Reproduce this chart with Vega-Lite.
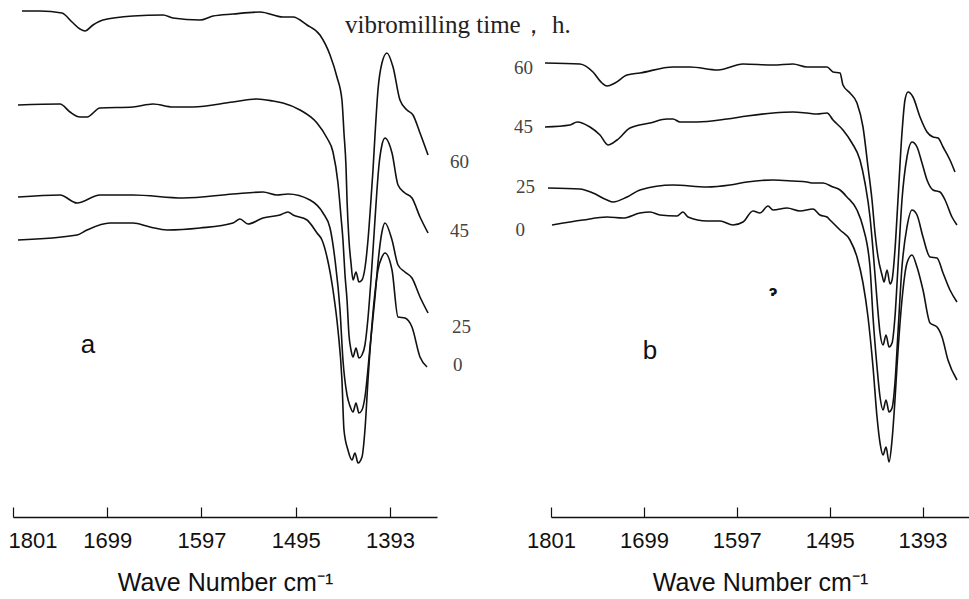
{
"$schema":"https://vega.github.io/schema/vega-lite/v6.json",
"padding":{"left":8,"top":0,"right":0,"bottom":0},
"autosize":{"type":"pad"},
"bounds":"flush",
"spacing":114,
"background":"white",
"config":{"view":{"stroke":null},
 "axis":{"grid":false,"format":"d","domainColor":"#111","domainWidth":1.5,"tickColor":"#111","tickWidth":1.2,"tickSize":-10,"labelFont":"Liberation Sans","labelFontSize":22,"labelColor":"#111","labelPadding":23,"titleFont":"Liberation Sans","titleFontSize":25,"titleFontWeight":"normal","titleColor":"#111","titlePadding":19}},
"datasets":{
"lineA":[
{"t":"60","wn":1791.3,"a":506},{"t":"60","wn":1771.8,"a":506},{"t":"60","wn":1748.0,"a":504},{"t":"60","wn":1737.1,"a":495},{"t":"60","wn":1728.5,"a":488},{"t":"60","wn":1723.1,"a":486},{"t":"60","wn":1714.4,"a":492},{"t":"60","wn":1703.6,"a":497},{"t":"60","wn":1671.1,"a":501},{"t":"60","wn":1638.6,"a":502},{"t":"60","wn":1627.8,"a":499},{"t":"60","wn":1598.6,"a":497},{"t":"60","wn":1584.5,"a":501},{"t":"60","wn":1562.9,"a":503},{"t":"60","wn":1533.6,"a":505},{"t":"60","wn":1508.7,"a":500},{"t":"60","wn":1497.9,"a":500},{"t":"60","wn":1482.7,"a":492},{"t":"60","wn":1468.7,"a":482},{"t":"60","wn":1457.8,"a":462},{"t":"60","wn":1450.3,"a":440},{"t":"60","wn":1444.9,"a":417},{"t":"60","wn":1442.7,"a":384},{"t":"60","wn":1440.5,"a":350},{"t":"60","wn":1439.4,"a":317},{"t":"60","wn":1437.3,"a":277},{"t":"60","wn":1435.1,"a":254},{"t":"60","wn":1432.9,"a":237},{"t":"60","wn":1429.7,"a":245},{"t":"60","wn":1426.5,"a":235},{"t":"60","wn":1423.2,"a":237},{"t":"60","wn":1420.0,"a":249},{"t":"60","wn":1416.7,"a":277},{"t":"60","wn":1413.5,"a":317},{"t":"60","wn":1411.3,"a":347},{"t":"60","wn":1409.1,"a":382},{"t":"60","wn":1405.9,"a":427},{"t":"60","wn":1401.6,"a":454},{"t":"60","wn":1396.2,"a":464},{"t":"60","wn":1389.6,"a":450},{"t":"60","wn":1382.1,"a":417},{"t":"60","wn":1374.5,"a":407},{"t":"60","wn":1368.0,"a":402},{"t":"60","wn":1360.4,"a":384},{"t":"60","wn":1351.7,"a":362},
{"t":"45","wn":1795.6,"a":412},{"t":"45","wn":1750.1,"a":413},{"t":"45","wn":1739.3,"a":405},{"t":"45","wn":1728.5,"a":400},{"t":"45","wn":1720.9,"a":400},{"t":"45","wn":1706.8,"a":409},{"t":"45","wn":1671.1,"a":410},{"t":"45","wn":1649.5,"a":413},{"t":"45","wn":1627.8,"a":410},{"t":"45","wn":1606.2,"a":410},{"t":"45","wn":1562.9,"a":415},{"t":"45","wn":1536.9,"a":418},{"t":"45","wn":1519.6,"a":416},{"t":"45","wn":1508.7,"a":414},{"t":"45","wn":1490.3,"a":407},{"t":"45","wn":1471.9,"a":394},{"t":"45","wn":1461.1,"a":379},{"t":"45","wn":1454.6,"a":365},{"t":"45","wn":1449.2,"a":334},{"t":"45","wn":1445.9,"a":300},{"t":"45","wn":1443.8,"a":277},{"t":"45","wn":1441.6,"a":242},{"t":"45","wn":1439.4,"a":217},{"t":"45","wn":1437.3,"a":182},{"t":"45","wn":1435.1,"a":167},{"t":"45","wn":1432.9,"a":160},{"t":"45","wn":1429.7,"a":169},{"t":"45","wn":1426.5,"a":159},{"t":"45","wn":1423.2,"a":162},{"t":"45","wn":1420.0,"a":172},{"t":"45","wn":1416.7,"a":199},{"t":"45","wn":1413.5,"a":237},{"t":"45","wn":1410.2,"a":282},{"t":"45","wn":1407.0,"a":327},{"t":"45","wn":1404.8,"a":352},{"t":"45","wn":1401.6,"a":372},{"t":"45","wn":1398.3,"a":379},{"t":"45","wn":1390.7,"a":364},{"t":"45","wn":1384.2,"a":332},{"t":"45","wn":1376.7,"a":324},{"t":"45","wn":1369.1,"a":319},{"t":"45","wn":1360.4,"a":300},{"t":"45","wn":1351.7,"a":284},
{"t":"25","wn":1795.6,"a":320},{"t":"25","wn":1750.1,"a":322},{"t":"25","wn":1731.7,"a":314},{"t":"25","wn":1706.8,"a":322},{"t":"25","wn":1671.1,"a":322},{"t":"25","wn":1617.0,"a":319},{"t":"25","wn":1562.9,"a":323},{"t":"25","wn":1530.4,"a":325},{"t":"25","wn":1515.2,"a":322},{"t":"25","wn":1503.3,"a":323},{"t":"25","wn":1479.5,"a":317},{"t":"25","wn":1465.4,"a":304},{"t":"25","wn":1457.8,"a":289},{"t":"25","wn":1452.4,"a":257},{"t":"25","wn":1447.0,"a":207},{"t":"25","wn":1443.8,"a":157},{"t":"25","wn":1439.4,"a":122},{"t":"25","wn":1436.2,"a":111},{"t":"25","wn":1432.9,"a":105},{"t":"25","wn":1429.7,"a":114},{"t":"25","wn":1426.5,"a":104},{"t":"25","wn":1423.2,"a":107},{"t":"25","wn":1420.0,"a":120},{"t":"25","wn":1414.5,"a":170},{"t":"25","wn":1409.1,"a":220},{"t":"25","wn":1405.9,"a":254},{"t":"25","wn":1401.6,"a":285},{"t":"25","wn":1398.3,"a":294},{"t":"25","wn":1390.7,"a":277},{"t":"25","wn":1384.2,"a":252},{"t":"25","wn":1376.7,"a":245},{"t":"25","wn":1369.1,"a":239},{"t":"25","wn":1360.4,"a":220},{"t":"25","wn":1351.7,"a":204},
{"t":"0","wn":1795.6,"a":277},{"t":"0","wn":1731.7,"a":282},{"t":"0","wn":1720.9,"a":287},{"t":"0","wn":1696.0,"a":294},{"t":"0","wn":1671.1,"a":294},{"t":"0","wn":1652.7,"a":290},{"t":"0","wn":1634.3,"a":287},{"t":"0","wn":1598.6,"a":289},{"t":"0","wn":1562.9,"a":294},{"t":"0","wn":1555.3,"a":298},{"t":"0","wn":1546.6,"a":293},{"t":"0","wn":1530.4,"a":299},{"t":"0","wn":1512.0,"a":302},{"t":"0","wn":1503.3,"a":305},{"t":"0","wn":1497.9,"a":302},{"t":"0","wn":1482.7,"a":297},{"t":"0","wn":1471.9,"a":284},{"t":"0","wn":1466.5,"a":277},{"t":"0","wn":1461.1,"a":260},{"t":"0","wn":1454.6,"a":227},{"t":"0","wn":1449.2,"a":187},{"t":"0","wn":1444.9,"a":137},{"t":"0","wn":1442.7,"a":87},{"t":"0","wn":1438.4,"a":67},{"t":"0","wn":1434.0,"a":57},{"t":"0","wn":1430.8,"a":64},{"t":"0","wn":1427.5,"a":54},{"t":"0","wn":1423.2,"a":60},{"t":"0","wn":1420.0,"a":87},{"t":"0","wn":1416.7,"a":137},{"t":"0","wn":1411.3,"a":204},{"t":"0","wn":1405.9,"a":247},{"t":"0","wn":1401.6,"a":260},{"t":"0","wn":1398.3,"a":264},{"t":"0","wn":1390.7,"a":247},{"t":"0","wn":1384.2,"a":200},{"t":"0","wn":1376.7,"a":199},{"t":"0","wn":1369.1,"a":190},{"t":"0","wn":1360.4,"a":160},{"t":"0","wn":1352.8,"a":150}
],
"lineB":[
{"t":"60","wn":1807.6,"a":454},{"t":"60","wn":1769.2,"a":453},{"t":"60","wn":1754.9,"a":445},{"t":"60","wn":1745.0,"a":434},{"t":"60","wn":1739.5,"a":431},{"t":"60","wn":1730.7,"a":434},{"t":"60","wn":1717.5,"a":442},{"t":"60","wn":1703.3,"a":444},{"t":"60","wn":1667.0,"a":450},{"t":"60","wn":1648.4,"a":450},{"t":"60","wn":1617.6,"a":447},{"t":"60","wn":1590.2,"a":453},{"t":"60","wn":1557.2,"a":452},{"t":"60","wn":1535.3,"a":453},{"t":"60","wn":1519.9,"a":450},{"t":"60","wn":1497.9,"a":450},{"t":"60","wn":1491.3,"a":445},{"t":"60","wn":1483.6,"a":444},{"t":"60","wn":1480.4,"a":432},{"t":"60","wn":1472.7,"a":424},{"t":"60","wn":1465.0,"a":414},{"t":"60","wn":1458.4,"a":390},{"t":"60","wn":1452.9,"a":350},{"t":"60","wn":1448.5,"a":317},{"t":"60","wn":1445.2,"a":284},{"t":"60","wn":1441.9,"a":260},{"t":"60","wn":1437.5,"a":242},{"t":"60","wn":1435.3,"a":235},{"t":"60","wn":1432.0,"a":247},{"t":"60","wn":1428.7,"a":233},{"t":"60","wn":1426.5,"a":237},{"t":"60","wn":1423.3,"a":267},{"t":"60","wn":1420.0,"a":317},{"t":"60","wn":1415.6,"a":384},{"t":"60","wn":1412.3,"a":417},{"t":"60","wn":1409.0,"a":425},{"t":"60","wn":1403.5,"a":420},{"t":"60","wn":1395.8,"a":400},{"t":"60","wn":1388.1,"a":385},{"t":"60","wn":1381.5,"a":380},{"t":"60","wn":1376.0,"a":379},{"t":"60","wn":1370.5,"a":370},{"t":"60","wn":1362.9,"a":357},{"t":"60","wn":1357.4,"a":345},
{"t":"45","wn":1807.6,"a":390},{"t":"45","wn":1780.1,"a":392},{"t":"45","wn":1772.4,"a":395},{"t":"45","wn":1758.2,"a":390},{"t":"45","wn":1747.2,"a":382},{"t":"45","wn":1738.4,"a":372},{"t":"45","wn":1728.5,"a":377},{"t":"45","wn":1714.3,"a":389},{"t":"45","wn":1692.3,"a":394},{"t":"45","wn":1673.6,"a":398},{"t":"45","wn":1667.0,"a":398},{"t":"45","wn":1659.3,"a":395},{"t":"45","wn":1640.7,"a":395},{"t":"45","wn":1607.7,"a":398},{"t":"45","wn":1585.8,"a":401},{"t":"45","wn":1557.2,"a":404},{"t":"45","wn":1535.3,"a":405},{"t":"45","wn":1519.9,"a":404},{"t":"45","wn":1508.9,"a":403},{"t":"45","wn":1497.9,"a":404},{"t":"45","wn":1491.3,"a":397},{"t":"45","wn":1480.4,"a":387},{"t":"45","wn":1470.5,"a":374},{"t":"45","wn":1461.7,"a":357},{"t":"45","wn":1456.2,"a":334},{"t":"45","wn":1450.7,"a":300},{"t":"45","wn":1447.4,"a":267},{"t":"45","wn":1443.0,"a":217},{"t":"45","wn":1439.7,"a":184},{"t":"45","wn":1436.4,"a":172},{"t":"45","wn":1433.1,"a":182},{"t":"45","wn":1429.8,"a":170},{"t":"45","wn":1426.5,"a":174},{"t":"45","wn":1423.3,"a":200},{"t":"45","wn":1420.0,"a":250},{"t":"45","wn":1415.6,"a":317},{"t":"45","wn":1410.1,"a":360},{"t":"45","wn":1404.6,"a":375},{"t":"45","wn":1399.1,"a":370},{"t":"45","wn":1393.6,"a":354},{"t":"45","wn":1388.1,"a":337},{"t":"45","wn":1381.5,"a":327},{"t":"45","wn":1373.8,"a":325},{"t":"45","wn":1368.3,"a":317},{"t":"45","wn":1360.7,"a":300},{"t":"45","wn":1355.2,"a":292},
{"t":"25","wn":1804.3,"a":329},{"t":"25","wn":1769.2,"a":328},{"t":"25","wn":1754.9,"a":324},{"t":"25","wn":1739.5,"a":317},{"t":"25","wn":1732.9,"a":315},{"t":"25","wn":1717.5,"a":320},{"t":"25","wn":1703.3,"a":327},{"t":"25","wn":1667.0,"a":332},{"t":"25","wn":1629.7,"a":330},{"t":"25","wn":1604.4,"a":332},{"t":"25","wn":1585.8,"a":335},{"t":"25","wn":1557.2,"a":337},{"t":"25","wn":1535.3,"a":336},{"t":"25","wn":1519.9,"a":335},{"t":"25","wn":1513.3,"a":334},{"t":"25","wn":1502.3,"a":334},{"t":"25","wn":1491.3,"a":330},{"t":"25","wn":1483.6,"a":327},{"t":"25","wn":1476.0,"a":320},{"t":"25","wn":1465.0,"a":307},{"t":"25","wn":1458.4,"a":290},{"t":"25","wn":1450.7,"a":250},{"t":"25","wn":1447.4,"a":200},{"t":"25","wn":1443.0,"a":150},{"t":"25","wn":1439.7,"a":120},{"t":"25","wn":1436.4,"a":107},{"t":"25","wn":1433.1,"a":117},{"t":"25","wn":1429.8,"a":105},{"t":"25","wn":1426.5,"a":109},{"t":"25","wn":1423.3,"a":134},{"t":"25","wn":1420.0,"a":184},{"t":"25","wn":1415.6,"a":250},{"t":"25","wn":1410.1,"a":290},{"t":"25","wn":1404.6,"a":307},{"t":"25","wn":1399.1,"a":302},{"t":"25","wn":1392.5,"a":280},{"t":"25","wn":1384.8,"a":260},{"t":"25","wn":1377.1,"a":259},{"t":"25","wn":1370.5,"a":244},{"t":"25","wn":1362.9,"a":227},{"t":"25","wn":1355.2,"a":215},
{"t":"0","wn":1799.9,"a":292},{"t":"0","wn":1765.9,"a":297},{"t":"0","wn":1739.5,"a":300},{"t":"0","wn":1721.9,"a":299},{"t":"0","wn":1703.3,"a":304},{"t":"0","wn":1692.3,"a":305},{"t":"0","wn":1681.3,"a":302},{"t":"0","wn":1662.6,"a":301},{"t":"0","wn":1656.1,"a":305},{"t":"0","wn":1650.6,"a":300},{"t":"0","wn":1629.7,"a":296},{"t":"0","wn":1615.4,"a":296},{"t":"0","wn":1601.1,"a":292},{"t":"0","wn":1590.2,"a":295},{"t":"0","wn":1579.2,"a":306},{"t":"0","wn":1571.5,"a":304},{"t":"0","wn":1562.7,"a":311},{"t":"0","wn":1557.2,"a":307},{"t":"0","wn":1541.8,"a":309},{"t":"0","wn":1527.6,"a":306},{"t":"0","wn":1513.3,"a":308},{"t":"0","wn":1505.6,"a":302},{"t":"0","wn":1497.9,"a":300},{"t":"0","wn":1494.6,"a":297},{"t":"0","wn":1483.6,"a":287},{"t":"0","wn":1472.7,"a":277},{"t":"0","wn":1465.0,"a":260},{"t":"0","wn":1458.4,"a":234},{"t":"0","wn":1452.9,"a":200},{"t":"0","wn":1447.4,"a":150},{"t":"0","wn":1443.0,"a":100},{"t":"0","wn":1439.7,"a":74},{"t":"0","wn":1436.4,"a":62},{"t":"0","wn":1433.1,"a":70},{"t":"0","wn":1429.8,"a":55},{"t":"0","wn":1426.5,"a":77},{"t":"0","wn":1423.3,"a":117},{"t":"0","wn":1421.1,"a":150},{"t":"0","wn":1415.6,"a":217},{"t":"0","wn":1410.1,"a":254},{"t":"0","wn":1404.6,"a":262},{"t":"0","wn":1399.1,"a":250},{"t":"0","wn":1392.5,"a":227},{"t":"0","wn":1384.8,"a":194},{"t":"0","wn":1377.1,"a":190},{"t":"0","wn":1371.6,"a":180},{"t":"0","wn":1365.1,"a":157},{"t":"0","wn":1355.2,"a":137}
],
"numA":[{"wn":1327.9,"a":355,"txt":"60"},{"wn":1327.9,"a":286,"txt":"45"},{"wn":1325.8,"a":190,"txt":"25"},{"wn":1324.7,"a":152,"txt":"0"}],
"numB":[{"wn":1820.8,"a":449,"txt":"60"},{"wn":1820.8,"a":390,"txt":"45"},{"wn":1818.6,"a":330,"txt":"25"},{"wn":1829.5,"a":287,"txt":"0"}],
"capA":[{"wn":1441.6,"a":484,"txt":"vibromilling time， h."}],
"tagA":[{"wn":1719.8,"a":172,"txt":"a"}],
"tagB":[{"wn":1692.3,"a":166,"txt":"b"}],
"speck":[{"wn":1557.2,"a":225,"txt":"ɂ"}]
},
"hconcat":[
{"width":424,"height":517,
 "encoding":{
  "x":{"field":"wn","type":"quantitative","scale":{"domain":[1801,1342],"nice":false,"zero":false},"axis":{"values":[1801,1699,1597,1495,1393],"title":"Wave Number cm⁻¹","labelFlush":1,"labelFlushOffset":5}},
  "y":{"field":"a","type":"quantitative","scale":{"domain":[0,517],"nice":false,"zero":false},"axis":null}},
 "layer":[
  {"data":{"name":"lineA"},"mark":{"type":"line","color":"#111","strokeWidth":1.6,"interpolate":"monotone","clip":false},"encoding":{"detail":{"field":"t"},"order":{"field":"wn","sort":"descending"}}},
  {"data":{"name":"numA"},"mark":{"type":"text","font":"Liberation Serif","fontSize":19,"color":"#444","align":"left","baseline":"middle"},"encoding":{"text":{"field":"txt"}}},
  {"data":{"name":"capA"},"mark":{"type":"text","font":"Liberation Serif","fontSize":25,"color":"#222","align":"left","baseline":"alphabetic"},"encoding":{"text":{"field":"txt"}}},
  {"data":{"name":"tagA"},"mark":{"type":"text","font":"Liberation Sans","fontSize":26,"color":"#111","align":"center","baseline":"middle"},"encoding":{"text":{"field":"txt"}}}
 ]},
{"width":418,"height":517,
 "encoding":{
  "x":{"field":"wn","type":"quantitative","scale":{"domain":[1801,1342],"nice":false,"zero":false},"axis":{"values":[1801,1699,1597,1495,1393],"title":"Wave Number cm⁻¹","labelFlush":false}},
  "y":{"field":"a","type":"quantitative","scale":{"domain":[0,517],"nice":false,"zero":false},"axis":null}},
 "layer":[
  {"data":{"name":"lineB"},"mark":{"type":"line","color":"#111","strokeWidth":1.6,"interpolate":"monotone","clip":false},"encoding":{"detail":{"field":"t"},"order":{"field":"wn","sort":"descending"}}},
  {"data":{"name":"numB"},"mark":{"type":"text","font":"Liberation Serif","fontSize":19,"color":"#444","align":"right","baseline":"middle"},"encoding":{"text":{"field":"txt"}}},
  {"data":{"name":"tagB"},"mark":{"type":"text","font":"Liberation Sans","fontSize":26,"color":"#111","align":"center","baseline":"middle"},"encoding":{"text":{"field":"txt"}}},
  {"data":{"name":"speck"},"mark":{"type":"text","font":"DejaVu Sans","fontSize":14,"fontWeight":"bold","color":"#111","align":"center","baseline":"middle"},"encoding":{"text":{"field":"txt"}}}
 ]}
]
}
